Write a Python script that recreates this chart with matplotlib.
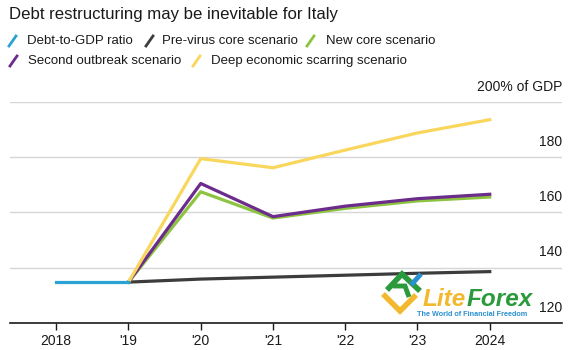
import matplotlib.pyplot as plt
from matplotlib.lines import Line2D

plt.rcParams['font.family'] = ['Liberation Sans', 'DejaVu Sans']

years = [2018, 2019, 2020, 2021, 2022, 2023, 2024]
tick_labels = ['2018', "'19", "'20", "'21", "'22", "'23", '2024']

debt_years = [2018, 2019]
debt_ratio = [134.8, 134.8]
proj_years = [2019, 2020, 2021, 2022, 2023, 2024]
pre_virus = [134.8, 135.9, 136.6, 137.3, 138.0, 138.6]
new_core = [134.8, 167.5, 158.0, 161.5, 164.2, 165.6]
second_outbreak = [134.8, 170.5, 158.5, 162.3, 165.0, 166.6]
deep_scarring = [134.8, 179.5, 176.2, 182.6, 188.8, 193.6]

names = ['Debt-to-GDP ratio', 'Pre-virus core scenario', 'New core scenario',
         'Second outbreak scenario', 'Deep economic scarring scenario']
colors = ['#29a3d3', '#3c3c3c', '#8cc43f', '#6b2c8c', '#f9d65c']

y_ticks = [120, 140, 160, 180, 200]
y_tick_labels = ['120', '140', '160', '180', '200% of GDP']

fig = plt.figure(figsize=(5.83, 3.5), dpi=100)
ax = fig.add_axes([10 / 583, 27 / 350, 552 / 583, 221 / 350])

lw = 2.3
ax.plot(proj_years, pre_virus, color=colors[1], lw=lw, zorder=3)
ax.plot(proj_years, new_core, color=colors[2], lw=lw, zorder=4)
ax.plot(proj_years, second_outbreak, color=colors[3], lw=lw, zorder=5)
ax.plot(proj_years, deep_scarring, color=colors[4], lw=lw, zorder=6)
ax.plot(debt_years, debt_ratio, color=colors[0], lw=lw, zorder=7)

ax.set_xlim(2017.36, 2025.0)
ax.set_ylim(120, 200)
for v in y_ticks[1:]:
    ax.axhline(v, color='#d6d6d6', lw=1, zorder=1)
for v, lab in zip(y_ticks, y_tick_labels):
    ax.annotate(lab, xy=(1, v), xycoords=('axes fraction', 'data'),
                xytext=(0, 6), textcoords='offset points',
                ha='right', va='bottom', fontsize=10, color='#1a1a1a')

ax.set_xticks(years)
ax.set_xticklabels(tick_labels, fontsize=10, color='#1a1a1a')
ax.tick_params(axis='x', length=5, width=1, color='#1a1a1a', pad=3)
ax.set_yticks([])
for s in ['top', 'right', 'left']:
    ax.spines[s].set_visible(False)
ax.spines['bottom'].set_color('#1a1a1a')
ax.spines['bottom'].set_linewidth(1.2)

fig.text(9 / 583, 1 - 14 / 350, 'Debt restructuring may be inevitable for Italy',
         fontsize=12.1, va='center', ha='left', color='#1a1a1a')

# legend with slash markers: (slash x, text x, y) in pixels
legend_pos = [(9, 27, 41), (146, 162, 41), (307, 326, 41), (10, 28, 61), (193, 211, 61)]
for (sx, tx, py), name, c in zip(legend_pos, names, colors):
    x0, x1 = sx / 583, (sx + 7) / 583
    y0, y1 = 1 - (py + 5) / 350, 1 - (py - 5) / 350
    fig.add_artist(Line2D([x0, x1], [y0, y1], color=c, lw=2.0,
                          transform=fig.transFigure))
    fig.text(tx / 583, 1 - py / 350, name, fontsize=9.5,
             va='center', ha='left', color='#1a1a1a')

# watermark
def px_line(xs, ys, c, w):
    fig.add_artist(Line2D([x / 583 for x in xs], [1 - y / 350 for y in ys],
                          color=c, lw=w, solid_capstyle='butt',
                          solid_joinstyle='miter', transform=fig.transFigure))

px_line([383, 400, 416], [294, 311, 295], '#f2b92e', 4)
px_line([387, 402, 420], [290, 274, 291], '#2a9a3c', 4)
px_line([393, 405, 409], [286, 286, 297], '#2a9a3c', 3.5)
px_line([411, 421], [285, 274], '#2a8fd0', 3.5)
lite = fig.text(423 / 583, 1 - 299 / 350, 'Lite', fontsize=17.5, fontweight='bold',
                style='italic', color='#f2b92e', va='center', ha='left')
fig.canvas.draw()
lite_right = lite.get_window_extent().x1 / fig.bbox.width
fig.text(lite_right + 0.5 / 583, 1 - 299 / 350, 'Forex', fontsize=17.5,
         fontweight='bold', style='italic', color='#2a9a3c', va='center', ha='left')
fig.text(472 / 583, 1 - 314 / 350, 'The World of Financial Freedom', fontsize=5.2,
         fontweight='bold', color='#2a8fd0', va='center', ha='center')

fig.savefig('out.png', dpi=100)
